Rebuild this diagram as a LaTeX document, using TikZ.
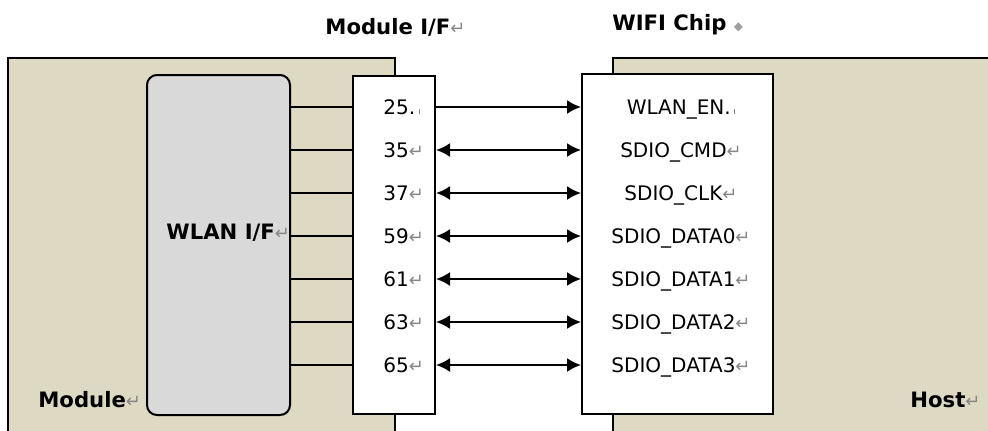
\documentclass[tikz,border=0pt]{standalone}
\usepackage{fontspec}
\setmainfont{DejaVu Sans}
\usetikzlibrary{arrows.meta}
\definecolor{boardtan}{RGB}{221,217,194}
\definecolor{ifgray}{RGB}{217,217,217}
\definecolor{markgray}{RGB}{135,135,135}
% paragraph mark and small cell marks as printed after the labels
\newcommand\pmk{{\color{markgray}\fontsize{9}{9}\selectfont\mdseries ↵}}
\newcommand\cmk{{\color{markgray}\,\rule[0pt]{0.5pt}{2.5pt}}}
\newcommand\dmk{{\color{markgray!80}\fontsize{6}{6}\selectfont ◆}}
\tikzset{
  board/.style={draw=black, line width=1pt, fill=boardtan},
  ifbox/.style={draw=black, line width=1pt, fill=white, inner sep=0pt},
  wlanbox/.style={draw=black, line width=1pt, fill=ifgray, rounded corners=5pt, inner sep=0pt},
  lbl/.style={inner sep=0pt, font=\fontsize{10}{12}\selectfont, text height=7.3pt, text depth=0pt},
  blbl/.style={lbl, font=\fontsize{10.6}{12}\selectfont\bfseries, text height=7.7pt},
  wire/.style={line width=1pt}
}
\begin{document}
\begin{tikzpicture}[x=0.5pt,y=-0.5pt, >={Latex[length=7pt,width=7pt]}]
\useasboundingbox (0,0) rectangle (988,430);
% carrier boards, running off the lower edge
\begin{scope}
  \clip (0,0) rectangle (988,430);
  \draw[board] (8,58) rectangle (395,445);
  \draw[board] (613,58) rectangle (1000,445);
\end{scope}
% interface blocks
\node[wlanbox, minimum width=71.5pt, minimum height=170pt] (wlan) at (218.5,245) {};
\node[ifbox, minimum width=41pt, minimum height=169pt] (mif) at (394,245) {};
\node[ifbox, minimum width=95.5pt, minimum height=170pt] (chip) at (677.5,244) {};
% titles
\node[blbl, anchor=west] (tmif) at (325,27) {Module I/F\pmk};
\node[blbl, anchor=west] (tchip) at (612,23) {WIFI Chip \dmk};
\node[blbl, anchor=west] (twlan) at (166,232) {WLAN I/F\pmk};
\node[blbl, anchor=west] (tmod) at (38,400) {Module\pmk};
\node[blbl, anchor=west] (thost) at (910,400) {Host\pmk};
% signal rows
\foreach \i/\y/\pin/\sig in {
  1/107/{25.\cmk}/{WLAN\_EN.\cmk},
  2/150/{35\pmk}/{SDIO\_CMD\pmk},
  3/193/{37\pmk}/{SDIO\_CLK\pmk},
  4/236/{59\pmk}/{SDIO\_DATA0\pmk},
  5/279/{61\pmk}/{SDIO\_DATA1\pmk},
  6/322/{63\pmk}/{SDIO\_DATA2\pmk},
  7/365/{65\pmk}/{SDIO\_DATA3\pmk}} {
  \node[lbl, anchor=west] (pin\i) at (383,\y) {\pin};
  \node[lbl] (sig\i) at (681,\y) {\sig};
  \draw[wire] (wlan.east |- pin\i.west) -- (mif.west |- pin\i.west);
}
\draw[wire, ->] (mif.east |- pin1.west) -- (chip.west |- pin1.west);
\foreach \i in {2,...,7} {
  \draw[wire, <->] (mif.east |- pin\i.west) -- (chip.west |- pin\i.west);
}
\end{tikzpicture}
\end{document}
